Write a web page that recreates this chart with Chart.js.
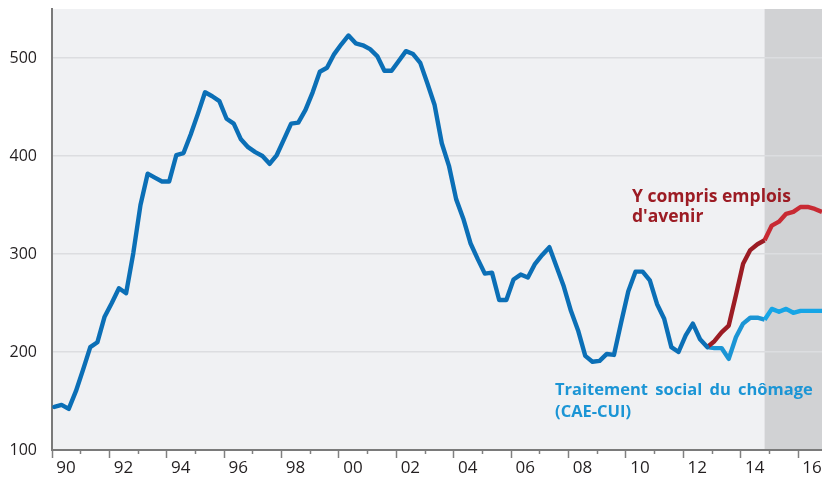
<!DOCTYPE html>
<html><head><meta charset="utf-8">
<script src="https://cdn.jsdelivr.net/npm/chart.js@4.4.1/dist/chart.umd.min.js"></script>
<style>html,body{margin:0;padding:0;background:#fff}#wrap{width:822px;height:477px;position:relative}</style>
</head><body><div id="wrap"><canvas id="c" width="822" height="477"></canvas></div>
<script>
// ---- data (quarterly, thousands) ----
const firstYear = 1990;              // first quarter: 1990 T1
const yearTicks = [1990,1991,1992,1993,1994,1995,1996,1997,1998,1999,2000,2001,2002,2003,2004,2005,2006,2007,2008,2009,2010,2011,2012,2013,2014,2015,2016];
// 1990T1 .. 2012T4
const historique = [144,146,142,160,182,205,210,236,250,265,260,301,350,382,378,374,374,401,403,422,
  443,465,461,456,438,433,417,409,404,400,392,401,417,433,434,447,465,486,490,504,
  514,523,515,513,509,502,487,487,497,507,504,495,474,452,413,390,356,336,311,295,
  280,281,253,253,274,279,276,290,299,307,287,267,242,222,196,190,191,198,197,230,
  262,282,282,273,249,234,205,200,217,229,213,205];
// 2012T4 .. 2016T4
const avecEmploisAvenir = [205,211,220,227,258,290,304,310,314,329,333,341,343,348,348,346,343];
const traitementSocial  = [205,204,204,193,215,229,235,235,233,244,241,244,240,242,242,242,242];
const branchStartQuarter = 91;   // 2012T4
const forecastStartQuarter = 99; // 2014T4 (grey zone)
const yTickValues = [100,200,300,400,500];
const labelRouge = ["Y compris emplois", "d'avenir"];
const labelBleu = ["Traitement social du chômage", "(CAE-CUI)"];

// quarter index -> decimal date (observation inside the first month of the quarter)
const xOf = i => firstYear + i / 4 + 1 / 12;
const toPts = (arr, start) => arr.map((v, k) => ({x: xOf(start + k), y: v}));
const forecastX = xOf(forecastStartQuarter);
const FONT = "'Open Sans', sans-serif";

const bgPlugin = {
  id: 'bg',
  beforeDraw(chart) {
    const {ctx, chartArea: a, scales: {x}} = chart;
    ctx.save();
    ctx.fillStyle = '#f0f1f3';
    ctx.fillRect(a.left, a.top, a.right - a.left, a.bottom - a.top);
    const sx = x.getPixelForValue(forecastX);
    ctx.fillStyle = '#d1d2d4';
    ctx.fillRect(sx, a.top, a.right - sx, a.bottom - a.top);
    ctx.restore();
  }
};

const textPlugin = {
  id: 'txt',
  afterDatasetsDraw(chart) {
    const {ctx, scales: {x, y}} = chart;
    ctx.save();
    ctx.font = "bold 17.5px " + FONT;
    ctx.textBaseline = 'alphabetic';
    ctx.textAlign = 'left';
    ctx.fillStyle = '#9c1c24';
    ctx.fillText(labelRouge[0], x.getPixelForValue(2010.21), y.getPixelForValue(353.4));
    ctx.fillText(labelRouge[1], x.getPixelForValue(2010.21), y.getPixelForValue(333));
    ctx.fillStyle = '#1b95d5';
    ctx.font = "bold 16.5px " + FONT;
    try { ctx.wordSpacing = '3px'; } catch (e) {}
    ctx.fillText(labelBleu[0], x.getPixelForValue(2007.53), y.getPixelForValue(156), 260);
    ctx.wordSpacing = '0px';
    ctx.fillText(labelBleu[1], x.getPixelForValue(2007.53), y.getPixelForValue(134));
    ctx.restore();
  }
};

new Chart(document.getElementById('c'), {
  type: 'line',
  data: {
    datasets: [
      {
        data: toPts(historique, 0),
        borderColor: '#0b6fb6',
        borderWidth: 4.4,
        pointRadius: 0,
        tension: 0,
        borderJoinStyle: 'round',
        borderCapStyle: 'round'
      },
      {
        data: toPts(avecEmploisAvenir, branchStartQuarter),
        borderColor: '#9c1c24',
        borderWidth: 4.4,
        pointRadius: 0,
        tension: 0,
        borderJoinStyle: 'round',
        segment: { borderColor: c => c.p0.parsed.x >= forecastX - 0.01 ? '#c82a33' : '#9c1c24' }
      },
      {
        data: toPts(traitementSocial, branchStartQuarter),
        borderColor: '#1b95d5',
        borderWidth: 4.4,
        pointRadius: 0,
        tension: 0,
        borderJoinStyle: 'round',
        segment: { borderColor: c => c.p0.parsed.x >= forecastX - 0.01 ? '#16a5e6' : '#1b95d5' }
      }
    ]
  },
  options: {
    responsive: false,
    devicePixelRatio: 1,
    animation: false,
    layout: { padding: { top: 9, left: 0, right: 0, bottom: 0 } },
    plugins: { legend: { display: false }, tooltip: { enabled: false } },
    scales: {
      x: {
        type: 'linear',
        min: firstYear,
        max: xOf(historique.length + avecEmploisAvenir.length - 2),
        afterBuildTicks: s => { s.ticks = yearTicks.map(v => ({value: v})); },
        afterFit: s => { s.height = 27; s.paddingLeft = 0; s.paddingRight = 0; },
        ticks: {
          autoSkip: false,
          maxRotation: 0,
          labelOffset: 14,
          padding: 0,
          color: '#231f20',
          font: { family: FONT, size: 17 },
          callback: v => (v % 2 === 0 ? String(v % 100).padStart(2, '0') : '')
        },
        grid: {
          drawOnChartArea: false,
          drawTicks: true,
          tickLength: 8,
          tickColor: '#808080',
          tickWidth: 1.5,
          tickBorderDash: c => (c.tick && c.tick.value % 2 !== 0 ? [3, 30] : [])
        },
        border: { color: '#7a7a7a', width: 2 }
      },
      y: {
        min: 100,
        max: 550,
        afterBuildTicks: s => { s.ticks = yTickValues.map(v => ({value: v})); },
        afterFit: s => { s.width = 52; s.paddingTop = 0; s.paddingBottom = 0; },
        ticks: {
          padding: 15,
          color: '#231f20',
          font: { family: FONT, size: 16 }
        },
        grid: {
          drawTicks: false,
          color: c => (c.tick && c.tick.value > 100 ? '#dcdde0' : 'rgba(0,0,0,0)'),
          lineWidth: 1.5
        },
        border: { color: '#7a7a7a', width: 2 }
      }
    }
  },
  plugins: [bgPlugin, textPlugin]
});
</script>
</body></html>
